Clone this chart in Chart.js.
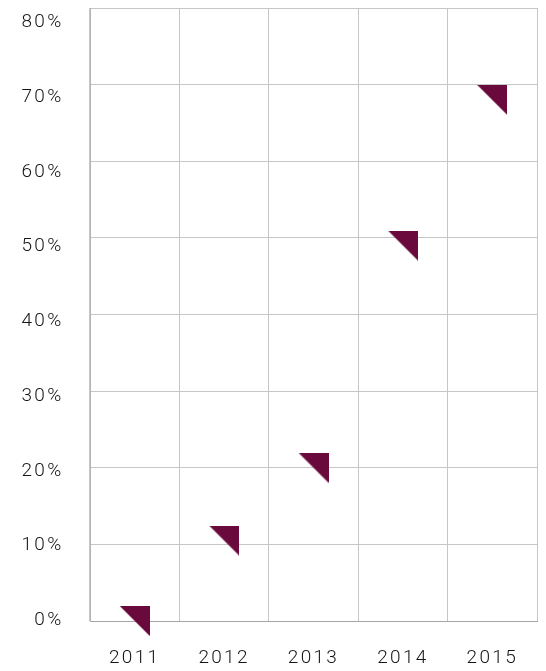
<!DOCTYPE html>
<html lang="en">
<head>
<meta charset="UTF-8">
<style>
html, body {
    margin: 0;
    padding: 0;
    background: #fff;
}

.chart-container {
    width: 546px;
    height: 671px;
}
</style>
</head>
<body>
<div class="chart-container">
<canvas id="shareChart"></canvas>
</div>
<script src="https://cdn.jsdelivr.net/npm/chart.js"></script>
<script>
const years = ['2011', '2012', '2013', '2014', '2015'];
const shares = [0, 10.5, 20, 49, 68];   // percent
const yTicks = [0, 10, 20, 30, 40, 50, 60, 70, 80];

const markColor = '#6a0a3c';
const gridColor = '#c6c6c6';
const textColor = '#151515';

// right-angled triangle marker, corner at top right
function triangleMarker(size) {
    const c = document.createElement('canvas');
    c.width = size;
    c.height = size;
    const g = c.getContext('2d');
    g.fillStyle = markColor;
    g.beginPath();
    g.moveTo(0, 0);
    g.lineTo(size, 0);
    g.lineTo(size, size);
    g.closePath();
    g.fill();
    return c;
}

const labelFont = { family: 'Roboto', size: 19, weight: '300' };

// wider letter spacing on all tick text
const spacing = {
    id: 'spacing',
    beforeDraw(chart) {
        chart.ctx.letterSpacing = '2.3px';
    }
};

// keep tick labels from pushing the plot area in
const noPad = s => {
    s.paddingTop = 0;
    s.paddingBottom = 0;
    s.paddingLeft = 0;
    s.paddingRight = 0;
};

const ctx = document.getElementById('shareChart').getContext('2d');
const shareChart = new Chart(ctx, {
    type: 'line',
    data: {
        labels: years,
        datasets: [{
            data: shares,
            showLine: false,
            pointStyle: triangleMarker(30),
            pointRadius: 15,
            pointHoverRadius: 15,
            clip: false
        }]
    },
    options: {
        responsive: true,
        maintainAspectRatio: false,
        animation: false,
        layout: {
            autoPadding: false,
            padding: { top: 8, right: 9, left: 0, bottom: 0 }
        },
        scales: {
            x: {
                offset: true,
                grid: {
                    offset: true,
                    color: gridColor,
                    drawTicks: false
                },
                border: { color: '#a4a4a4' },
                ticks: {
                    color: textColor,
                    font: labelFont,
                    padding: 26,
                    maxRotation: 0
                },
                afterFit: s => { s.height = 50; noPad(s); }
            },
            y: {
                position: 'left',
                min: 0,
                max: 80,
                grid: {
                    color: gridColor,
                    drawTicks: false
                },
                border: { color: '#b4b4b4' },
                ticks: { display: false, stepSize: 10 },
                afterFit: s => { s.width = 0; noPad(s); }
            },
            // labels sit on a slightly tighter spacing than the grid
            yLabels: {
                position: 'left',
                min: -0.07,
                max: 81.9,
                grid: { display: false, drawTicks: false },
                border: { display: false },
                ticks: {
                    color: textColor,
                    font: labelFont,
                    padding: 26.5,
                    callback: v => v + '%'
                },
                afterBuildTicks: s => {
                    s.ticks = yTicks.map(v => ({ value: v }));
                },
                afterFit: s => { s.width = 90; noPad(s); }
            }
        },
        plugins: {
            legend: { display: false },
            tooltip: { enabled: false }
        }
    },
    plugins: [spacing]
});
</script>
</body>
</html>
